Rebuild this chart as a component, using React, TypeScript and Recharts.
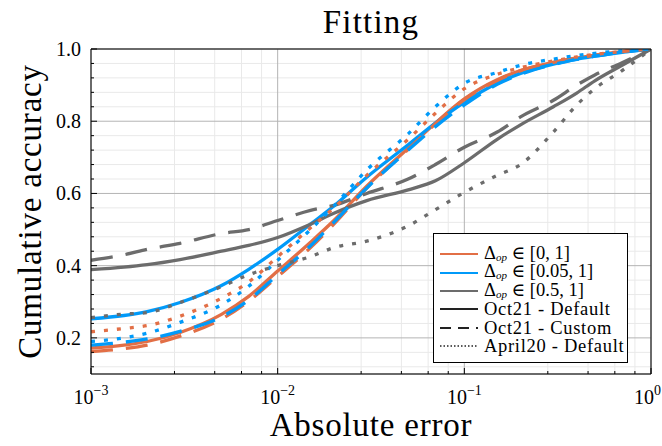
import { LineChart, Line, XAxis, YAxis, CartesianGrid } from 'recharts'

// ─── data ────────────────────────────────────────────────────────────────────

const errors = [0.001, 0.0015, 0.002, 0.003, 0.005, 0.007, 0.01, 0.015, 0.02, 0.03, 0.05, 0.07, 0.1, 0.15, 0.2, 0.3, 0.4, 0.5, 0.7, 1]

// Oct21 - Default (solid)
const orangeSolid = [0.172, 0.18, 0.19, 0.215, 0.265, 0.315, 0.385, 0.465, 0.525, 0.62, 0.725, 0.795, 0.862, 0.915, 0.94, 0.963, 0.975, 0.983, 0.993, 1]
const blueSolid = [0.253, 0.262, 0.273, 0.298, 0.345, 0.39, 0.445, 0.515, 0.565, 0.645, 0.735, 0.795, 0.852, 0.905, 0.932, 0.958, 0.972, 0.98, 0.991, 1]
const graySolid = [0.389, 0.396, 0.403, 0.417, 0.44, 0.456, 0.478, 0.515, 0.545, 0.58, 0.61, 0.635, 0.685, 0.75, 0.79, 0.84, 0.878, 0.912, 0.955, 1]

// Oct21 - Custom (dashed)
const orangeDashed = [0.162, 0.17, 0.18, 0.205, 0.252, 0.302, 0.37, 0.45, 0.515, 0.615, 0.722, 0.793, 0.86, 0.913, 0.94, 0.963, 0.975, 0.983, 0.993, 1]
const blueDashed = [0.18, 0.188, 0.197, 0.218, 0.258, 0.305, 0.375, 0.455, 0.52, 0.615, 0.72, 0.785, 0.845, 0.902, 0.93, 0.957, 0.971, 0.98, 0.991, 1]
const grayDashed = [0.415, 0.43, 0.445, 0.462, 0.489, 0.5, 0.525, 0.553, 0.567, 0.6, 0.64, 0.68, 0.728, 0.77, 0.812, 0.858, 0.9, 0.928, 0.962, 1]

// April20 - Default (dotted)
const orangeDotted = [0.217, 0.226, 0.234, 0.26, 0.31, 0.355, 0.425, 0.505, 0.56, 0.65, 0.75, 0.822, 0.89, 0.93, 0.948, 0.967, 0.978, 0.985, 0.993, 1]
const blueDotted = [0.19, 0.2, 0.213, 0.243, 0.292, 0.343, 0.415, 0.5, 0.565, 0.665, 0.765, 0.84, 0.905, 0.935, 0.955, 0.972, 0.982, 0.988, 0.995, 1]
const grayDotted = [0.256, 0.266, 0.27, 0.298, 0.342, 0.375, 0.4, 0.425, 0.45, 0.468, 0.51, 0.555, 0.603, 0.65, 0.68, 0.77, 0.845, 0.89, 0.94, 1]

const xMajor = [0.001, 0.01, 0.1, 1]
const xExponents = ['−3', '−2', '−1', '0']
const decades = [0.001, 0.01, 0.1]
const minorFactors = [2.8, 4.6, 6.4, 8.2]
const yMajor = [0.2, 0.4, 0.6, 0.8, 1.0]
const yLabels = ['0.2', '0.4', '0.6', '0.8', '1.0']
const yMinor = [0.12, 0.16, 0.24, 0.28, 0.32, 0.36, 0.44, 0.48, 0.52, 0.56, 0.64, 0.68, 0.72, 0.76, 0.84, 0.88, 0.92, 0.96]

// ─── styles ──────────────────────────────────────────────────────────────────

const FONT = '"Liberation Serif", "DejaVu Serif", serif'
const ORANGE = '#e26f46'
const BLUE = '#009af9'
const GRAY = '#6c6c6c'
const DASH = '22 13'
const DOT = '4 9'

const series = [
  { key: 'os', values: orangeSolid, color: ORANGE, dash: undefined },
  { key: 'bs', values: blueSolid, color: BLUE, dash: undefined },
  { key: 'gs', values: graySolid, color: GRAY, dash: undefined },
  { key: 'od', values: orangeDashed, color: ORANGE, dash: DASH },
  { key: 'bd', values: blueDashed, color: BLUE, dash: DASH },
  { key: 'gd', values: grayDashed, color: GRAY, dash: DASH },
  { key: 'ot', values: orangeDotted, color: ORANGE, dash: DOT },
  { key: 'bt', values: blueDotted, color: BLUE, dash: DOT },
  { key: 'gt', values: grayDotted, color: GRAY, dash: DOT },
]

const legendItems = [
  { range: '[0, 1]', color: ORANGE, dash: undefined, w: 1.8 },
  { range: '[0.05, 1]', color: BLUE, dash: undefined, w: 1.8 },
  { range: '[0.5, 1]', color: GRAY, dash: undefined, w: 1.8 },
  { text: 'Oct21 - Default', color: '#222', dash: undefined, w: 2 },
  { text: 'Oct21 - Custom', color: '#222', dash: '11 7', w: 2 },
  { text: 'April20 - Default', color: '#222', dash: '1.5 2', w: 1.6 },
]

const xMinor = decades.flatMap((d) => minorFactors.map((f) => d * f))
const xAll = [...xMajor, ...xMinor].sort((a, b) => a - b)
const yAll = [...yMajor, ...yMinor].sort((a, b) => a - b)

const data = errors.map((x, i) => {
  const row: Record<string, number> = { x }
  for (const s of series) row[s.key] = s.values[i]
  return row
})

function XTick(props: any) {
  const { x, y, payload } = props
  const i = xMajor.indexOf(payload.value)
  // the last label would run off the page, so it is pulled in to end at the edge
  const last = i === xMajor.length - 1
  return (
    <g>
      <line x1={x} x2={x} y1={y} y2={y - (i >= 0 ? 6 : 3)} stroke="#000" />
      {i >= 0 && (
        <text x={last ? x + 10 : x} y={y + 30} textAnchor={last ? 'end' : 'middle'} fontSize={20} fontFamily={FONT} fill="#000">
          10<tspan dy={-9} fontSize={14}>{xExponents[i]}</tspan>
        </text>
      )}
    </g>
  )
}

function YTick(props: any) {
  const { x, y, payload } = props
  const i = yMajor.findIndex((v) => Math.abs(v - payload.value) < 1e-9)
  return (
    <g>
      <line x1={x} x2={x + (i >= 0 ? 6 : 3)} y1={y} y2={y} stroke="#000" />
      {i >= 0 && (
        <text x={x - 10} y={y + 7} textAnchor="end" fontSize={20} fontFamily={FONT} fill="#000">
          {yLabels[i]}
        </text>
      )}
    </g>
  )
}

export default function App() {
  return (
    <div style={{ position: 'absolute', left: 0, top: 0, width: 662, height: 446, background: '#fff' }}>
      <LineChart width={662} height={446} data={data} margin={{ top: 0, right: 0, bottom: 0, left: 0 }}>
        {/* minor + major grid from hidden axes */}
        <XAxis xAxisId="xmin" type="number" dataKey="x" scale="log" domain={[0.001, 1]} ticks={xMinor} interval={0} allowDataOverflow hide />
        <YAxis yAxisId="ymin" type="number" domain={[0.1, 1]} ticks={yMinor} interval={0} allowDataOverflow hide />
        <XAxis xAxisId="xmaj" type="number" dataKey="x" scale="log" domain={[0.001, 1]} ticks={xMajor} interval={0} allowDataOverflow hide />
        <YAxis yAxisId="ymaj" type="number" domain={[0.1, 1]} ticks={yMajor} interval={0} allowDataOverflow hide />
        <CartesianGrid xAxisId="xmin" yAxisId="ymin" stroke="#e9e9e9" />
        <CartesianGrid xAxisId="xmaj" yAxisId="ymaj" stroke="#b4b4b4" />

        <XAxis
          xAxisId="x"
          type="number"
          dataKey="x"
          scale="log"
          domain={[0.001, 1]}
          ticks={xAll}
          interval={0}
          height={72}
          tickSize={0}
          tickMargin={0}
          tickLine={false}
          tick={<XTick />}
          axisLine={{ stroke: '#000' }}
          allowDataOverflow
          label={{ value: 'Absolute error', position: 'insideBottom', offset: 10, style: { fontFamily: FONT, fontSize: 33, fill: '#000', letterSpacing: 0.8 } }}
        />
        <YAxis
          yAxisId="y"
          type="number"
          domain={[0.1, 1]}
          ticks={yAll}
          interval={0}
          width={91}
          tickSize={0}
          tickMargin={0}
          tickLine={false}
          tick={<YTick />}
          axisLine={{ stroke: '#000' }}
          allowDataOverflow
          label={{ value: 'Cumulative accuracy', angle: -90, position: 'insideLeft', offset: 29, style: { textAnchor: 'middle', fontFamily: FONT, fontSize: 33, fill: '#000', letterSpacing: 0.8 } }}
        />
        <XAxis
          xAxisId="top"
          orientation="top"
          type="number"
          dataKey="x"
          scale="log"
          domain={[0.001, 1]}
          height={49}
          tick={false}
          tickLine={false}
          axisLine={{ stroke: '#000' }}
          allowDataOverflow
          label={{ value: 'Fitting', position: 'insideBottom', offset: 16, style: { fontFamily: FONT, fontSize: 33, fill: '#000', letterSpacing: 1.2 } }}
        />
        <YAxis yAxisId="right" orientation="right" type="number" domain={[0.1, 1]} width={11} tick={false} tickLine={false} axisLine={{ stroke: '#000' }} allowDataOverflow />

        {series.map((s) => (
          <Line
            key={s.key}
            xAxisId="x"
            yAxisId="y"
            type="monotoneX"
            dataKey={s.key}
            stroke={s.color}
            strokeWidth={3.3}
            strokeDasharray={s.dash}
            dot={false}
            activeDot={false}
            isAnimationActive={false}
          />
        ))}
      </LineChart>

      <div
        style={{
          position: 'absolute', left: 433, top: 233, width: 195, height: 130,
          border: '1px solid #000', background: '#fff', boxSizing: 'border-box',
          paddingTop: 11, fontFamily: FONT, fontSize: 18.5, color: '#000',
        }}
      >
        {legendItems.map((it, i) => (
          <div key={i} style={{ display: 'flex', alignItems: 'center', height: 18.4, lineHeight: '18.4px', whiteSpace: 'nowrap' }}>
            <svg width={44} height={10} style={{ marginLeft: 6, flex: 'none' }}>
              <line x1={0} x2={38} y1={5} y2={5} stroke={it.color} strokeWidth={it.w} strokeDasharray={it.dash} />
            </svg>
            {it.range ? (
              <span>
                Δ<span style={{ fontSize: 11, fontStyle: 'italic', position: 'relative', top: 2 }}>op</span> ∈ {it.range}
              </span>
            ) : (
              <span style={{ letterSpacing: 0.7 }}>{it.text}</span>
            )}
          </div>
        ))}
      </div>
    </div>
  )
}
